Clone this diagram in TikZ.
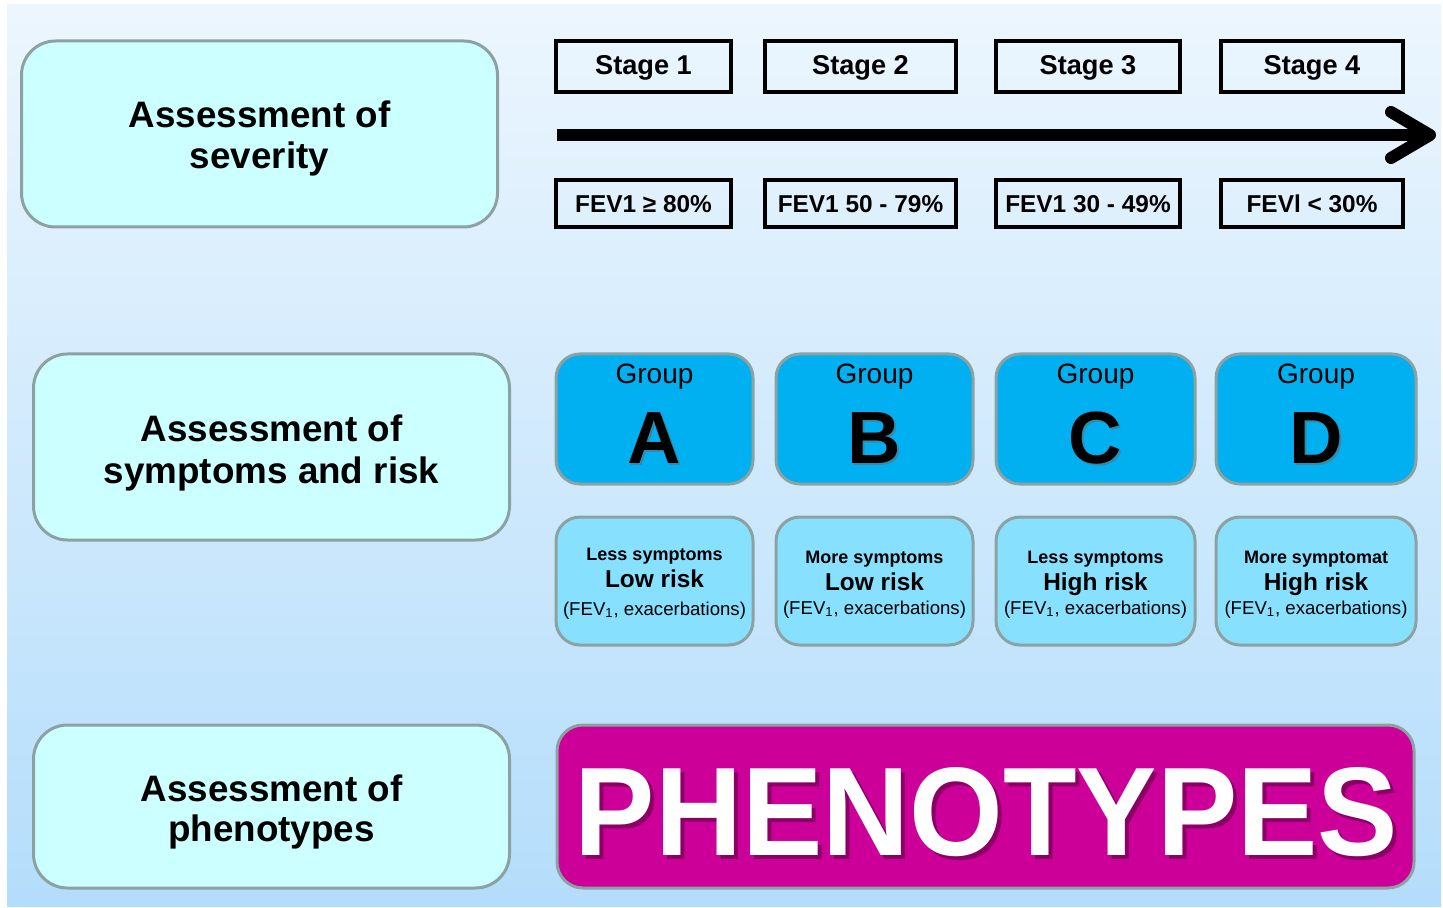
\documentclass[tikz,border=0pt]{standalone}
\usepackage{fontspec}
\setmainfont{Liberation Sans}
\definecolor{bgtop}{RGB}{236,246,254}
\definecolor{bgbot}{RGB}{180,221,251}
\definecolor{lcyan}{RGB}{204,255,255}
\definecolor{bgray}{RGB}{140,162,162}
\definecolor{grpblue}{RGB}{0,176,240}
\definecolor{lowblue}{RGB}{136,224,255}
\definecolor{magent}{RGB}{204,0,153}
\definecolor{magshadow}{RGB}{110,0,80}
\begin{document}
\begin{tikzpicture}[x=0.5pt,y=-0.5pt,
  assess/.style={draw=bgray, line width=1.5pt, fill=lcyan, rounded corners=17pt, inner sep=0pt, minimum width=238pt},
  atext/.style={anchor=base, inner sep=0pt, font=\fontsize{18.4}{21}\selectfont\bfseries},
  stagebox/.style={draw=black, line width=1.8pt, inner sep=0pt, minimum height=25.5pt},
  fevbox/.style={draw=black, line width=1.8pt, inner sep=0pt, minimum height=23.5pt},
  stagetext/.style={anchor=base, inner sep=0pt, font=\fontsize{13.6}{15}\selectfont\bfseries},
  fevtext/.style={anchor=base, inner sep=0pt, font=\fontsize{12.2}{14}\selectfont\bfseries},
  grpbox/.style={draw=bgray, line width=1.5pt, fill=grpblue, rounded corners=12pt, inner sep=0pt, minimum height=65pt},
  lowbox/.style={draw=bgray, line width=1.5pt, fill=lowblue, rounded corners=12pt, inner sep=0pt, minimum height=64pt},
  grptext/.style={anchor=base, inner sep=0pt, font=\fontsize{14}{16}\selectfont},
  lettertext/.style={anchor=base, inner sep=0pt, font=\fontsize{37}{40}\selectfont\bfseries},
  symtext/.style={anchor=base, inner sep=0pt, font=\fontsize{9}{10}\selectfont\bfseries},
  risktext/.style={anchor=base, inner sep=0pt, font=\fontsize{12.2}{14}\selectfont\bfseries},
  exatext/.style={anchor=base, inner sep=0pt, font=\fontsize{9.3}{11}\selectfont},
  arrowline/.style={line width=6pt}
]
% background
\fill[white] (0,0) rectangle (1443,908);
\shade[top color=bgtop, bottom color=bgbot] (7,5) rectangle (1441,906);
\useasboundingbox (0,0) rectangle (1443,908);

% left assessment boxes
\node[assess, minimum height=93pt] (sev) at (259.5,134) {};
\node[atext] (sevA) at (259.5,128) {Assessment of};
\node[atext] (sevB) at (259.5,169) {severity};

\node[assess, minimum height=93pt] (sym) at (271.5,447) {};
\node[atext] (symA) at (271.5,441) {Assessment of};
\node[atext] (symB) at (271.5,483) {symptoms and risk};

\node[assess, minimum height=81.5pt] (phe) at (271.5,806.5) {};
\node[atext] (pheA) at (271.5,801) {Assessment of};
\node[atext] (pheB) at (271.5,841) {phenotypes};

% stages
\node[stagebox, minimum width=87.5pt] (s1) at (643.5,66.5) {};
\node[stagebox, minimum width=95.5pt] (s2) at (860.5,66.5) {};
\node[stagebox, minimum width=92pt] (s3) at (1088,66.5) {};
\node[stagebox, minimum width=91pt] (s4) at (1312,66.5) {};
\node[stagetext] (s1t) at (643.5,75) {Stage 1};
\node[stagetext] (s2t) at (860.5,75) {Stage 2};
\node[stagetext] (s3t) at (1088,75) {Stage 3};
\node[stagetext] (s4t) at (1312,75) {Stage 4};

\node[fevbox, minimum width=87.5pt] (f1) at (643.5,203.5) {};
\node[fevbox, minimum width=95.5pt] (f2) at (860.5,203.5) {};
\node[fevbox, minimum width=92pt] (f3) at (1088,203.5) {};
\node[fevbox, minimum width=91pt] (f4) at (1312,203.5) {};
\node[fevtext] (f1t) at (643.5,213) {FEV1 ≥ 80\%};
\node[fevtext] (f2t) at (860.5,213) {FEV1 50 - 79\%};
\node[fevtext] (f3t) at (1088,213) {FEV1 30 - 49\%};
\node[fevtext] (f4t) at (1312,213) {FEVl < 30\%};

% arrow
\coordinate (ar0) at (557,135);
\coordinate (ar1) at (1426,135);
\coordinate (hd1) at (1391,112);
\coordinate (hdt) at (1430,135);
\coordinate (hd2) at (1391,158);
\draw[arrowline] (ar0) -- (ar1);
\draw[arrowline, line cap=round, line join=round] (hd1) -- (hdt) -- (hd2);

% groups
\node[grpbox, minimum width=98.5pt] (gA) at (654.5,419) {};
\node[grpbox, minimum width=98.5pt] (gB) at (874.5,419) {};
\node[grpbox, minimum width=99.5pt] (gC) at (1095.5,419) {};
\node[grpbox, minimum width=100pt] (gD) at (1316,419) {};
\foreach \n/\x/\l in {A/654.5/A, B/874.5/B, C/1095.5/C, D/1316/D}{
  \node[grptext] (g\n t) at (\x,384) {Group};
  \node[lettertext, black!60, opacity=0.5] (g\n s) at (\x+2,465) {\l};
  \node[lettertext] (g\n l) at (\x,463) {\l};
}

% lower boxes
\node[lowbox, minimum width=98.5pt] (lA) at (654.5,581) {};
\node[lowbox, minimum width=98.5pt] (lB) at (874.5,581) {};
\node[lowbox, minimum width=99.5pt] (lC) at (1095.5,581) {};
\node[lowbox, minimum width=100pt] (lD) at (1316,581) {};

\node[symtext] (lA1) at (654.5,560) {Less symptoms};
\node[risktext] (lA2) at (654.5,587) {Low risk};
\node[exatext] (lA3) at (654.5,615) {(FEV\textsubscript{1}, exacerbations)};

\node[symtext] (lB1) at (874.5,563) {More symptoms};
\node[risktext] (lB2) at (874.5,590) {Low risk};
\node[exatext] (lB3) at (874.5,614) {(FEV\textsubscript{1}, exacerbations)};

\node[symtext] (lC1) at (1095.5,563) {Less symptoms};
\node[risktext] (lC2) at (1095.5,590) {High risk};
\node[exatext] (lC3) at (1095.5,614) {(FEV\textsubscript{1}, exacerbations)};

\node[symtext] (lD1) at (1316,563) {More symptomat};
\node[risktext] (lD2) at (1316,590) {High risk};
\node[exatext] (lD3) at (1316,614) {(FEV\textsubscript{1}, exacerbations)};

% phenotypes
\node[draw=bgray, line width=1.5pt, fill=magent, rounded corners=13pt, inner sep=0pt, minimum width=428.5pt, minimum height=81.5pt] (ph) at (985.5,806.5) {};
\node[anchor=base, inner sep=0pt, text=magshadow, opacity=0.7, xscale=0.956, font=\fontsize{63}{70}\selectfont\bfseries] (phs) at (990.5,859) {PHENOTYPES};
\node[anchor=base, inner sep=0pt, text=white, xscale=0.956, font=\fontsize{63}{70}\selectfont\bfseries] (pht) at (986.5,855) {PHENOTYPES};
\end{tikzpicture}
\end{document}
